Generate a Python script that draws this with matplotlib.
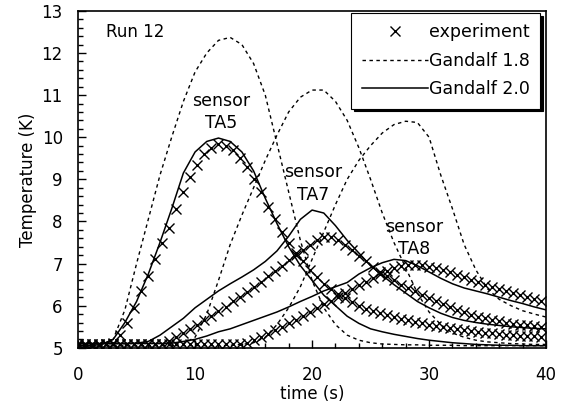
import numpy as np
import matplotlib
matplotlib.use("Agg")
from matplotlib import pyplot as plt
from matplotlib.lines import Line2D
from matplotlib.ticker import MultipleLocator

plt.rcParams['font.family'] = ['DejaVu Sans']

# measured temperatures, one sample every 0.6 s
t_exp = np.round(np.arange(0, 40.0, 0.6), 1)
ta5_exp = [5.05, 5.05, 5.05, 5.06, 5.08, 5.12, 5.30, 5.60, 5.95, 6.35,
           6.70, 7.10, 7.50, 7.85, 8.30, 8.70, 9.05, 9.35, 9.60, 9.75,
           9.85, 9.80, 9.70, 9.50, 9.30, 9.00, 8.70, 8.35, 8.05, 7.75,
           7.50, 7.25, 7.05, 6.85, 6.68, 6.52, 6.40, 6.28, 6.18, 6.08,
           6.00, 5.93, 5.88, 5.83, 5.78, 5.73, 5.69, 5.65, 5.61, 5.58,
           5.55, 5.52, 5.49, 5.46, 5.44, 5.42, 5.40, 5.38, 5.36, 5.34,
           5.33, 5.31, 5.30, 5.29, 5.28, 5.27, 5.26]
ta7_exp = [5.08, 5.08, 5.08, 5.08, 5.09, 5.09, 5.09, 5.09, 5.10, 5.10,
           5.10, 5.10, 5.10, 5.15, 5.25, 5.35, 5.45, 5.55, 5.65, 5.76,
           5.87, 5.98, 6.10, 6.20, 6.32, 6.45, 6.57, 6.70, 6.83, 6.95,
           7.08, 7.20, 7.32, 7.45, 7.55, 7.62, 7.62, 7.55, 7.45, 7.32,
           7.18, 7.05, 6.93, 6.80, 6.70, 6.60, 6.50, 6.42, 6.34, 6.26,
           6.18, 6.10, 6.03, 5.96, 5.90, 5.84, 5.79, 5.74, 5.70, 5.66,
           5.63, 5.60, 5.57, 5.55, 5.53, 5.51, 5.50]
ta8_exp = [5.08, 5.08, 5.08, 5.08, 5.08, 5.08, 5.08, 5.09, 5.09, 5.09,
           5.09, 5.09, 5.09, 5.10, 5.10, 5.10, 5.10, 5.10, 5.10, 5.10,
           5.10, 5.10, 5.10, 5.10, 5.12, 5.18, 5.25, 5.33, 5.42, 5.50,
           5.58, 5.67, 5.76, 5.85, 5.94, 6.03, 6.12, 6.21, 6.30, 6.40,
           6.48, 6.57, 6.66, 6.75, 6.83, 6.90, 6.95, 6.97, 6.97, 6.96,
           6.93, 6.90, 6.85, 6.80, 6.74, 6.68, 6.62, 6.56, 6.50, 6.45,
           6.40, 6.35, 6.30, 6.25, 6.20, 6.16, 6.12]

# simulations, one value per second
t_sim = np.arange(0, 41)
ta5_g18 = [5.05, 5.05, 5.07, 5.20, 5.90, 7.00, 8.05, 9.10, 10.00, 10.85,
           11.55, 12.00, 12.30, 12.37, 12.20, 11.75, 11.00, 9.85, 8.70, 7.55,
           6.60, 5.95, 5.55, 5.30, 5.18, 5.12, 5.09, 5.08, 5.07, 5.07,
           5.06, 5.06, 5.06, 5.05, 5.05, 5.05, 5.05, 5.05, 5.05, 5.05, 5.05]
ta7_g18 = [5.05, 5.05, 5.05, 5.05, 5.05, 5.05, 5.05, 5.06, 5.07, 5.10,
           5.25, 5.80, 6.60, 7.45, 8.15, 8.80, 9.45, 10.05, 10.60, 10.95,
           11.12, 11.12, 10.85, 10.40, 9.75, 9.00, 8.20, 7.50, 6.90, 6.30,
           5.85, 5.55, 5.35, 5.25, 5.18, 5.14, 5.12, 5.10, 5.09, 5.08, 5.08]
ta8_g18 = [5.05, 5.05, 5.05, 5.05, 5.05, 5.05, 5.05, 5.05, 5.05, 5.05,
           5.05, 5.05, 5.05, 5.06, 5.08, 5.12, 5.25, 5.55, 5.95, 6.45,
           7.10, 7.75, 8.40, 9.00, 9.45, 9.80, 10.10, 10.30, 10.38, 10.35,
           10.00, 9.10, 8.30, 7.45, 6.85, 6.40, 6.15, 6.00, 5.88, 5.80, 5.73]
ta5_g20 = [5.05, 5.05, 5.08, 5.20, 5.60, 6.10, 6.75, 7.50, 8.30, 9.15,
           9.65, 9.90, 9.98, 9.90, 9.65, 9.20, 8.55, 7.95, 7.40, 6.95,
           6.60, 6.25, 6.00, 5.75, 5.58, 5.45, 5.38, 5.32, 5.27, 5.22,
           5.18, 5.15, 5.12, 5.10, 5.08, 5.07, 5.06, 5.06, 5.05, 5.05, 5.05]
ta7_g20 = [5.10, 5.10, 5.10, 5.10, 5.10, 5.11, 5.15, 5.30, 5.50, 5.70,
           5.95, 6.15, 6.35, 6.52, 6.68, 6.85, 7.05, 7.30, 7.65, 8.05,
           8.27, 8.20, 7.90, 7.55, 7.25, 6.95, 6.72, 6.50, 6.30, 6.10,
           5.95, 5.82, 5.72, 5.65, 5.60, 5.56, 5.53, 5.50, 5.48, 5.46, 5.45]
ta8_g20 = [5.10, 5.10, 5.10, 5.10, 5.10, 5.10, 5.10, 5.10, 5.11, 5.15,
           5.20, 5.28, 5.38, 5.45, 5.55, 5.65, 5.75, 5.85, 5.97, 6.10,
           6.22, 6.35, 6.45, 6.55, 6.75, 6.90, 7.02, 7.10, 7.07, 6.95,
           6.80, 6.65, 6.52, 6.42, 6.35, 6.28, 6.20, 6.12, 6.05, 5.97, 5.90]

fig = plt.figure(figsize=(5.7, 4.03), dpi=100)
ax = fig.add_axes([0.137, 0.137, 0.821, 0.836])

dash = (0, (2.5, 2.5))
for y in [ta5_g18, ta7_g18, ta8_g18]:
    ax.plot(t_sim, y, color='black', lw=1.0, linestyle=dash)
for y in [ta5_g20, ta7_g20, ta8_g20]:
    ax.plot(t_sim, y, color='black', lw=1.1)
for y in [ta5_exp, ta7_exp, ta8_exp]:
    ax.plot(t_exp, y, 'x', color='black', ms=6.5, mew=1.0)

ax.set_xlim(0, 40)
ax.set_ylim(5, 13)
ax.xaxis.set_major_locator(MultipleLocator(10))
ax.xaxis.set_minor_locator(MultipleLocator(2))
ax.yaxis.set_major_locator(MultipleLocator(1))
ax.yaxis.set_minor_locator(MultipleLocator(0.2))
ax.tick_params(which='both', direction='in', top=False, right=False,
               labelsize=12, width=1)
ax.tick_params(which='major', length=6)
ax.tick_params(which='minor', length=3.5)
ax.tick_params(axis='x', which='major', pad=13)
ax.tick_params(axis='y', which='major', pad=11)
for s in ax.spines.values():
    s.set_linewidth(1.2)

ax.set_xlabel('time (s)', fontsize=12, labelpad=0.5)
ax.set_ylabel('Temperature (K)', fontsize=12, labelpad=3)

ax.text(2.4, 12.5, 'Run 12', fontsize=12, va='center')
ax.text(12.2, 10.6, 'sensor\nTA5', fontsize=12.5, ha='center', va='center',
        linespacing=1.3)
ax.text(20.1, 8.9, 'sensor\nTA7', fontsize=12.5, ha='center', va='center',
        linespacing=1.3)
ax.text(28.7, 7.6, 'sensor\nTA8', fontsize=12.5, ha='center', va='center',
        linespacing=1.3)

handles = [Line2D([], [], color='black', marker='x', ls='none', ms=6.5),
           Line2D([], [], color='black', lw=1.0, linestyle=dash),
           Line2D([], [], color='black', lw=1.1)]
leg = ax.legend(handles, ['experiment', 'Gandalf 1.8', 'Gandalf 2.0'],
                loc='upper right', bbox_to_anchor=(0.987, 0.994),
                borderaxespad=0, fontsize=12.5, fancybox=False,
                edgecolor='black', framealpha=1, handlelength=3.8,
                handletextpad=0.05, labelspacing=0.6, borderpad=0.6,
                shadow={'facecolor': 'black', 'edgecolor': 'black',
                        'alpha': 1})
leg.get_frame().set_linewidth(0.8)

fig.savefig('out.png', dpi=100)
